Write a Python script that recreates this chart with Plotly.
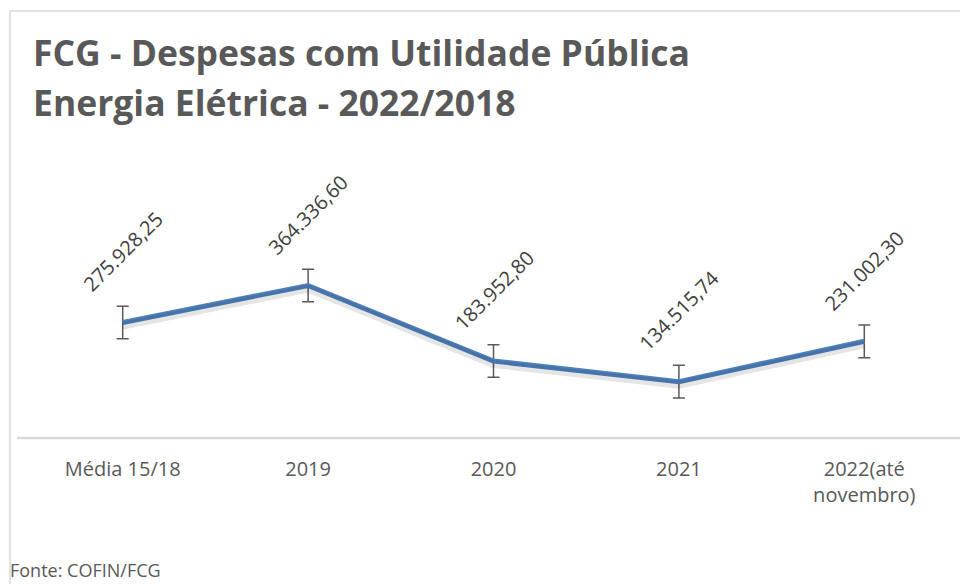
import plotly.graph_objects as go

categories = ["Média 15/18", "2019", "2020", "2021", "2022(até<br>novembro)"]
values = [275928.25, 364336.60, 183952.80, 134515.74, 231002.30]
labels = ["275.928,25", "364.336,60", "183.952,80", "134.515,74", "231.002,30"]
error_value = 39000

title_lines = ["FCG - Despesas com Utilidade Pública", "Energia Elétrica - 2022/2018"]
source_text = "Fonte: COFIN/FCG"

FONT = "Open Sans"
GREY = "#595959"

W, H = 960, 576
OFF = 8  # page body margin
L, R, T, B = 22, 11, 137, 146
PW, PH = W - L - R, H - T - B
YMAX = 700000
SHADOW_PX = 3


def px(xr):
    return (xr - OFF - L) / PW


def py(yr):
    return (H - B - (yr - OFF)) / PH


xs = list(range(len(categories)))
fig = go.Figure()
# soft shadow under the line (same data on a slightly shifted overlay axis)
shift = SHADOW_PX * YMAX / PH
fig.add_trace(go.Scatter(
    x=xs, y=values, mode="lines", yaxis="y2",
    line=dict(color="rgba(0,0,0,0.10)", width=8),
    hoverinfo="skip", showlegend=False,
))
fig.add_trace(go.Scatter(
    x=xs, y=values, mode="lines",
    line=dict(color="#4F81BD", width=5),
    error_y=dict(type="constant", value=error_value, color="#595959", thickness=1.5, width=6),
    hoverinfo="skip", showlegend=False,
))

for i, (v, t) in enumerate(zip(values, labels)):
    fig.add_annotation(x=i, y=v, text=t, showarrow=False, textangle=-45,
                       xanchor="center", yanchor="middle", yshift=71,
                       font=dict(family=FONT, size=20, color="#404040"))

for line, yc in zip(title_lines, [52, 102]):
    fig.add_annotation(xref="paper", yref="paper", x=px(31), y=py(yc),
                       text="<b>" + line + "</b>", showarrow=False,
                       xanchor="left", yanchor="middle", align="left",
                       font=dict(family=FONT, size=35.5, color=GREY))

fig.add_annotation(xref="paper", yref="paper", x=px(8), y=py(570),
                   text=source_text, showarrow=False, xanchor="left", yanchor="middle",
                   font=dict(family=FONT, size=18, color=GREY))

# outer chart border
fig.add_shape(type="rect", xref="paper", yref="paper",
              x0=px(10), x1=px(1010), y0=py(640), y1=py(11),
              line=dict(color="#d9d9d9", width=1.5), fillcolor="rgba(0,0,0,0)", layer="below")
# baseline
fig.add_shape(type="line", xref="paper", yref="paper",
              x0=px(17), x1=px(1000), y0=0, y1=0,
              line=dict(color="#d9d9d9", width=2.5), layer="below")

fig.update_layout(
    width=W, height=H,
    margin=dict(l=L, r=R, t=T, b=B),
    paper_bgcolor="white", plot_bgcolor="white",
    font=dict(family=FONT, color=GREY),
    xaxis=dict(range=[-0.5, 4.5], showgrid=False, showline=False, zeroline=False,
               tickmode="array", tickvals=xs, ticktext=categories,
               ticks="outside", ticklen=13, tickcolor="rgba(0,0,0,0)",
               tickfont=dict(family=FONT, size=20, color=GREY)),
    yaxis=dict(range=[0, YMAX], visible=False, showgrid=False, zeroline=False),
    yaxis2=dict(range=[shift, YMAX + shift], overlaying="y", visible=False,
                showgrid=False, zeroline=False),
)

fig.write_html("out.html")
